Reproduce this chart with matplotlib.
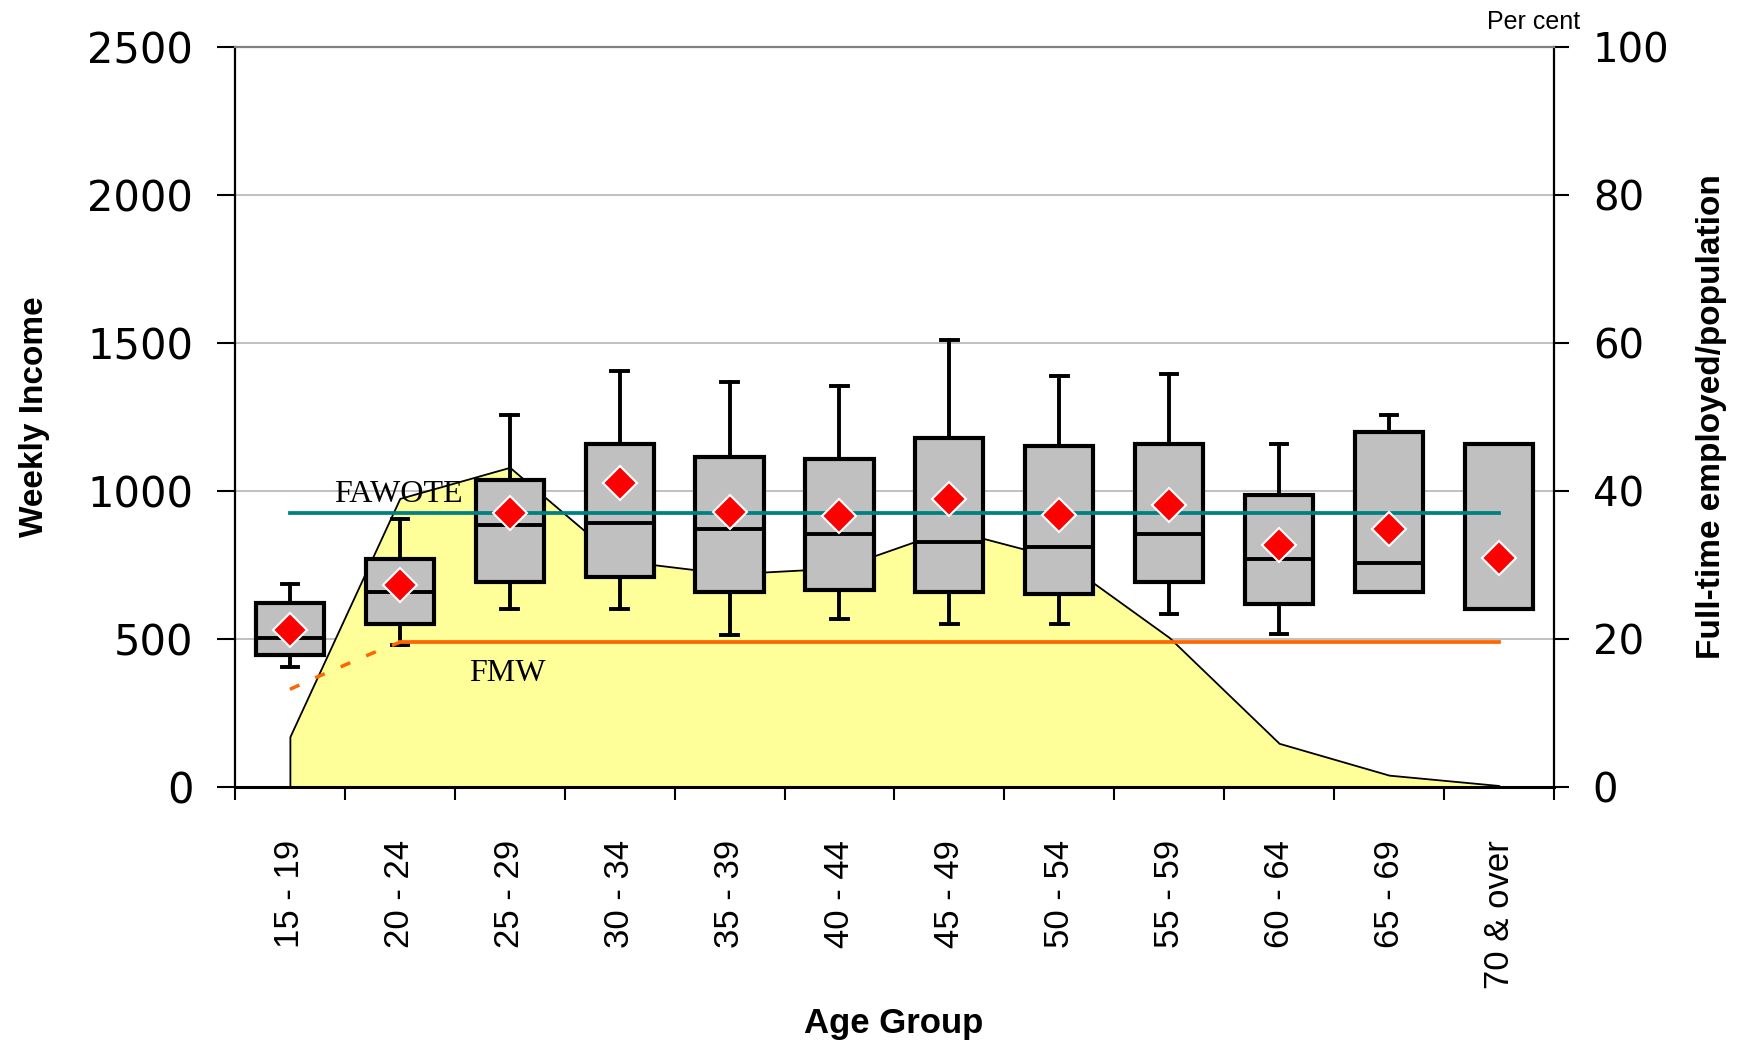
import numpy as np
import matplotlib
matplotlib.use("Agg")
import matplotlib.pyplot as plt

# ── data ───────────────────────────────────────────────────────────────
AGE_GROUPS = ["15 - 19", "20 - 24", "25 - 29", "30 - 34", "35 - 39", "40 - 44",
              "45 - 49", "50 - 54", "55 - 59", "60 - 64", "65 - 69", "70 & over"]

WHISKER_LO = [406, 481, 601, 603, 512, 567, 552, 552, 583, 516, 659, 603]
Q1         = [445, 552, 693, 710, 659, 667, 659, 651, 693, 618, 659, 603]
MEDIAN     = [504, 659, 884, 893, 870, 856, 828, 811, 856, 769, 757, 603]
Q3         = [623, 769, 1038, 1158, 1115, 1109, 1180, 1151, 1160, 988, 1199, 1158]
WHISKER_HI = [687, 904, 1257, 1404, 1369, 1355, 1511, 1390, 1395, 1158, 1257, 1158]
MEAN       = [530, 684, 924, 1028, 929, 916, 972, 918, 952, 817, 873, 775]

# full-time employed / population, per cent (right axis)
FT_EMPLOYED_PCT = [6.8, 39.0, 43.2, 30.6, 28.8, 29.6, 34.8, 30.9, 20.2, 5.9, 1.6, 0.2]

FAWOTE = 925
FMW = 490
# junior minimum wage ramp between 15-19 and 20-24
JUNIOR_POS = [0, 0.25, 0.5, 0.75, 1.0]
JUNIOR_FMW = [330, 372, 412, 452, 489]

BOX_GREY = "#c0c0c0"
AREA_YELLOW = "#ffff99"
TEAL = "#008080"
ORANGE = "#ff6600"
GRID = "#c0c0c0"
SANS = ["Liberation Sans", "DejaVu Sans"]
SERIF = ["Liberation Serif", "DejaVu Serif"]

fig = plt.figure(figsize=(17.48, 10.45), dpi=100, facecolor="white")
ax = fig.add_axes([0.1344, 0.2469, 0.7546, 0.7081])
ax2 = ax.twinx()
ax.set_zorder(ax2.get_zorder() + 1)
ax.patch.set_visible(False)

x = np.arange(len(AGE_GROUPS))

# ── employment share area (right axis, behind everything) ──────────────
ax2.fill_between(x, FT_EMPLOYED_PCT, 0, facecolor=AREA_YELLOW,
                 edgecolor="black", linewidth=1.3, zorder=2)
ax2.set_ylim(0, 100)
ax2.set_yticks(range(0, 101, 20))
ax2.set_axisbelow(True)
ax2.grid(True, axis="y", color=GRID, linewidth=1.4)

# ── income box plots ───────────────────────────────────────────────────
stats = []
for lo, q1, med, q3, hi, mn in zip(WHISKER_LO, Q1, MEDIAN, Q3, WHISKER_HI, MEAN):
    stats.append(dict(whislo=lo, q1=q1, med=med, q3=q3, whishi=hi,
                      mean=mn, fliers=[]))

ax.bxp(stats, positions=x, widths=0.62, capwidths=0.15, showmeans=True,
       patch_artist=True, manage_ticks=False,
       boxprops=dict(facecolor=BOX_GREY, edgecolor="black", linewidth=3.0),
       medianprops=dict(color="black", linewidth=2.8),
       whiskerprops=dict(color="black", linewidth=2.8),
       capprops=dict(color="black", linewidth=2.8),
       meanprops=dict(marker="D", markerfacecolor="red",
                      markeredgecolor="white", markeredgewidth=1.5,
                      markersize=17, zorder=6))

# reference lines
ax.plot([x[0], x[-1]], [FAWOTE, FAWOTE], color=TEAL, linewidth=2.7, zorder=4)
ax.plot([x[1], x[-1]], [FMW, FMW], color=ORANGE, linewidth=2.7, zorder=4)
ax.plot(JUNIOR_POS, JUNIOR_FMW, color=ORANGE, linewidth=2.5,
        dashes=(3, 5), zorder=4)

ax.text(0.40, 963, "FAWOTE", family=SERIF, fontsize=23,
        ha="left", va="baseline", zorder=5)
ax.text(1.63, 385, "FMW", family=SERIF, fontsize=23,
        ha="left", va="center", zorder=5)

# ── axes styling ───────────────────────────────────────────────────────
ax.set_xlim(-0.5, len(AGE_GROUPS) - 0.5)
ax.set_ylim(0, 2500)
ax.set_yticks(range(0, 2501, 500))

ax.set_xticks(np.arange(-0.5, len(AGE_GROUPS), 1.0))
ax.set_xticklabels([])
ax.set_xticks(x, minor=True)
ax.set_xticklabels(AGE_GROUPS, minor=True, rotation=90, ha="center", va="top",
                   fontsize=25, family=SANS)
ax.tick_params(axis="x", which="major", direction="out", length=9.5, width=1.5)
ax.tick_params(axis="x", which="minor", length=0, pad=38)
ax.tick_params(axis="y", direction="out", length=13, width=1.5, pad=17,
               labelsize=30)
ax2.tick_params(axis="y", direction="out", length=11, width=1.5, pad=17,
                labelsize=29)

ax.spines["right"].set_visible(False)
ax.spines["top"].set_color("#808080")
ax.spines["top"].set_linewidth(1.6)
ax.spines["left"].set_linewidth(1.6)
ax.spines["bottom"].set_linewidth(2.2)
for s in ("top", "left", "bottom"):
    ax2.spines[s].set_visible(False)
ax2.spines["right"].set_linewidth(1.6)

ax.set_ylabel("Weekly Income", family=SANS, fontsize=24, fontweight="bold")
ax.yaxis.set_label_coords(-0.14, 0.5)
ax.set_xlabel("Age Group", family=SANS, fontsize=25, fontweight="bold",
              va="center")
ax.xaxis.set_label_coords(0.499, -0.32)
ax2.set_ylabel("Full-time employed/population", family=SANS, fontsize=24,
               fontweight="bold")
ax2.yaxis.set_label_coords(1.108, 0.5)

ax2.text(1.02, 1.018, "Per cent", transform=ax2.transAxes, family=SANS,
         fontsize=18, ha="right", va="bottom")

fig.savefig("out.png", dpi=100, facecolor="white")
